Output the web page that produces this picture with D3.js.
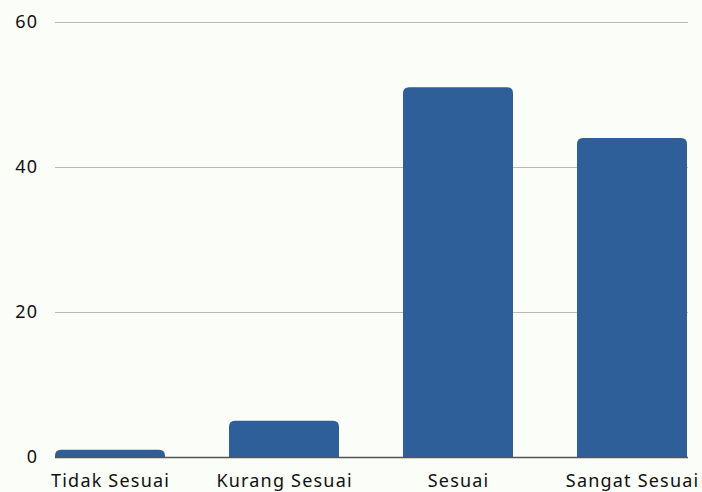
<!DOCTYPE html>
<html><head><meta charset="utf-8">
<script src="https://cdn.jsdelivr.net/npm/d3@7"></script>
<style>html,body{margin:0;padding:0;background:#fbfdf8;}svg{display:block;}</style>
</head><body>
<svg id="c" width="702" height="492"></svg>
<script>
const categories = ["Tidak Sesuai", "Kurang Sesuai", "Sesuai", "Sangat Sesuai"];
const values = [1, 5, 51, 44];
const yTicks = [0, 20, 40, 60];

(function () {
const svg = d3.select("#c");
const W = 702, H = 492;
svg.append("rect").attr("width", W).attr("height", H).attr("fill", "#fbfdf8");
const mLeft = 55, mRight = 687, mTop = 22, mBottom = 457;
const font = "'Noto Sans', sans-serif";
const ls = 1.2;

const x = d3.scaleBand().domain(categories).range([mLeft, mRight]).paddingInner(64/174).paddingOuter(0);
const y = d3.scaleLinear().domain([0, 60]).range([mBottom, mTop]);

// gridlines
svg.append("g").selectAll("line").data(yTicks.filter(t => t > 0)).join("line")
  .attr("x1", mLeft).attr("x2", 688)
  .attr("y1", d => y(d) + 0.5).attr("y2", d => y(d) + 0.5)
  .attr("stroke", "#b8bab5").attr("stroke-width", 1);

// y tick labels
svg.append("g").selectAll("text").data(yTicks).join("text")
  .attr("x", 37 + ls).attr("y", d => y(d)).attr("dy", "0.36em")
  .attr("text-anchor", "end").attr("font-family", font).attr("font-size", 18)
  .attr("letter-spacing", ls)
  .attr("fill", "#111").text(d => d);

// bars with rounded top
const r = 6;
svg.append("g").selectAll("path").data(values).join("path")
  .attr("fill", "#2e5f98")
  .attr("d", (d, i) => {
    const x0 = x(categories[i]), w = x.bandwidth(), y0 = y(d), yb = y(0);
    const rr = Math.min(r, (yb - y0));
    return `M${x0},${yb}V${y0 + rr}Q${x0},${y0} ${x0 + rr},${y0}H${x0 + w - rr}Q${x0 + w},${y0} ${x0 + w},${y0 + rr}V${yb}Z`;
  });

// baseline
svg.append("line").attr("x1", mLeft).attr("x2", 688)
  .attr("y1", mBottom + 0.5).attr("y2", mBottom + 0.5)
  .attr("stroke", "#555").attr("stroke-width", 1.5);

// x labels
svg.append("g").selectAll("text").data(categories).join("text")
  .attr("x", d => x(d) + x.bandwidth() / 2 + ls / 2).attr("y", 487)
  .attr("text-anchor", "middle").attr("font-family", font).attr("font-size", 18)
  .attr("letter-spacing", ls)
  .attr("fill", "#111").text(d => d);
})();
</script>
</body></html>
